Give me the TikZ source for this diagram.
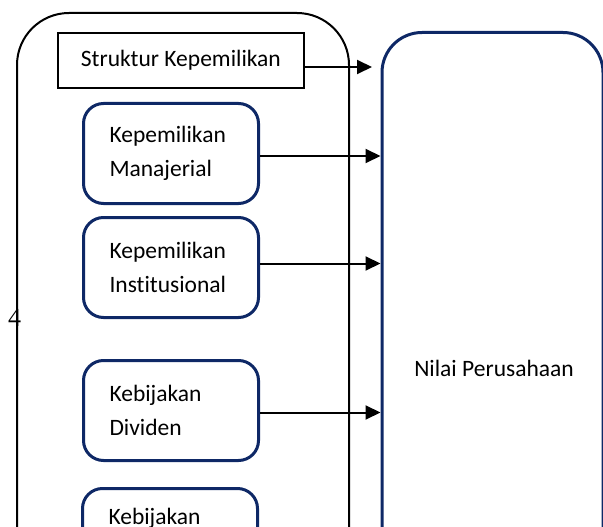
\documentclass[tikz,border=0pt]{standalone}
\usepackage{fontspec}
\setmainfont{Carlito}[Ligatures=NoCommon]
\newfontfamily\serifnum{Liberation Serif}
\usetikzlibrary{arrows.meta}
\definecolor{navy}{RGB}{14,40,102}
\tikzset{
  bluebox/.style={draw=navy, line width=3pt, rounded corners=20pt, minimum width=175pt,
    minimum height=100pt, text width=123pt, align=left, inner xsep=26pt, anchor=north west,
    font=\fontsize{23.5pt}{34pt}\selectfont},
  arr/.style={line width=2pt, -{Triangle[length=15pt,width=14pt]}},
}
\begin{document}
\begin{tikzpicture}[x=1pt,y=-1pt]
\useasboundingbox (0,0) rectangle (603,527);
\clip (0,0) rectangle (603,527);
% fragment of digit at left
\node[font=\serifnum\fontsize{26pt}{26pt}\selectfont, anchor=base west, inner sep=0pt] (frag) at (8,326) {4};
% outer frame
\draw[line width=2pt, rounded corners=52pt] (17,580) -- (17,13) -- (349,13) -- (349,580);
% target
\node[draw=navy, line width=3pt, rounded corners=40pt, minimum width=221pt, minimum height=672pt,
  anchor=north west, font=\fontsize{23.5pt}{34pt}\selectfont] (nilai) at (380.5,31) {\hspace*{3pt}Nilai Perusahaan};
% struktur
\node[draw, line width=1.7pt, minimum width=246pt, minimum height=55pt, anchor=north west,
  font=\fontsize{23.5pt}{34pt}\selectfont] (struk) at (57,32) {Struktur Kepemilikan};
\node[bluebox] (mgr) at (82,102) {Kepemilikan\\Manajerial};
\node[bluebox] (inst) at (82,216) {Kepemilikan\\Institusional};
\node[bluebox] (div) at (82,359) {Kebijakan\\Dividen};
\node[bluebox] (keb) at (81,487) {Kebijakan\\\strut};
\coordinate (t0) at (372,67);
\draw[arr] (struk.east |- t0) -- (t0);
\draw[arr] ([yshift=-2.5pt]mgr.east) -- ([yshift=-2.5pt]mgr.east -| nilai.west);
\draw[arr] ([yshift=4pt]inst.east) -- ([yshift=4pt]inst.east -| nilai.west);
\draw[arr] ([yshift=-2pt]div.east) -- ([yshift=-2pt]div.east -| nilai.west);
\end{tikzpicture}
\end{document}
